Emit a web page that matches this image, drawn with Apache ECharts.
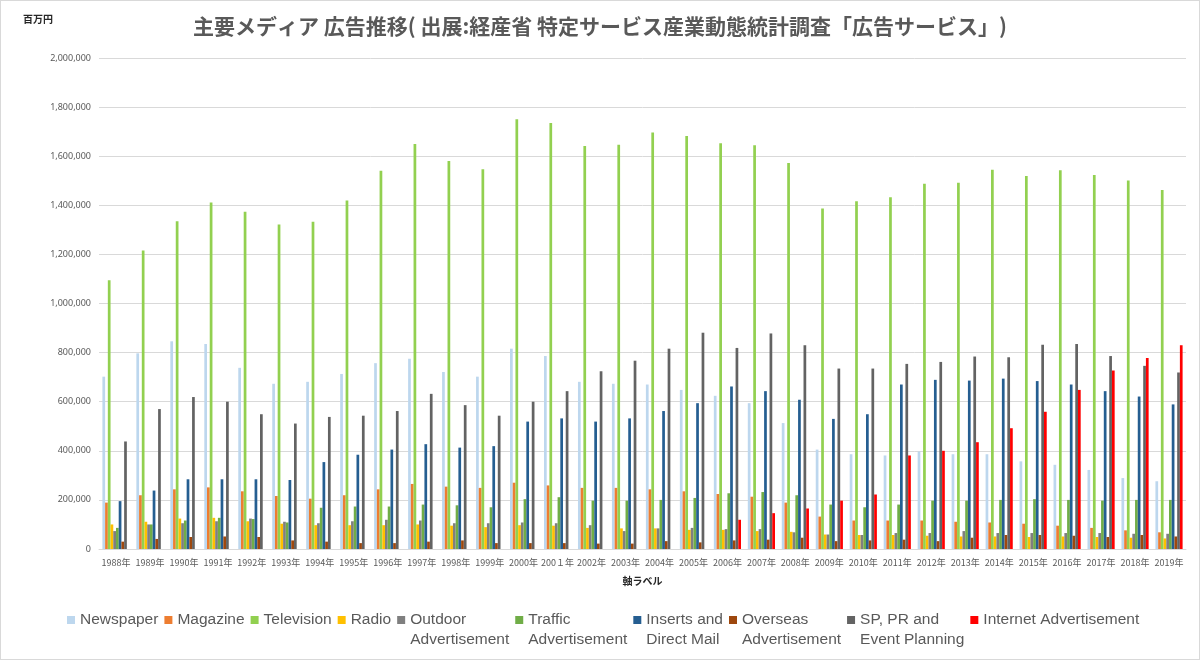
<!DOCTYPE html>
<html lang="ja">
  <head>
    <meta charset="UTF-8" />
    <title>主要メディア 広告推移</title>
    <style>
      * {
        padding: 0;
        margin: 0;
      }
      #main {
        width: 1200px;
        height: 660px;
        box-sizing: border-box;
        border: 1px solid #d9d9d9;
        background: #fff;
      }
    </style>
    <script src="https://cdn.jsdelivr.net/npm/echarts@6/dist/echarts.min.js"></script>
  </head>
  <body>
    <div id="main"></div>
    <script type="text/javascript">
      // 百万円, 1988-2019
      var years = ['1988年', '1989年', '1990年', '1991年', '1992年', '1993年', '1994年', '1995年',
        '1996年', '1997年', '1998年', '1999年', '2000年', '200１年', '2002年', '2003年',
        '2004年', '2005年', '2006年', '2007年', '2008年', '2009年', '2010年', '2011年',
        '2012年', '2013年', '2014年', '2015年', '2016年', '2017年', '2018年', '2019年'];

      var newspaper = [702000, 797000, 846000, 835000, 738000, 673000, 681000, 713000, 757000, 775000, 721000, 702000,
        816000, 786000, 681000, 673000, 670000, 648000, 624000, 594000, 513000, 405000, 386000, 381000,
        397000, 386000, 386000, 357000, 343000, 322000, 289000, 276000];
      var magazine = [189000, 219000, 243000, 251000, 235000, 216000, 205000, 219000, 243000, 265000, 254000, 249000,
        270000, 259000, 249000, 249000, 243000, 235000, 224000, 213000, 189000, 132000, 116000, 116000,
        116000, 111000, 108000, 103000, 95000, 86000, 76000, 68000];
      var television = [1095000, 1216000, 1335000, 1411000, 1374000, 1322000, 1333000, 1420000, 1541000, 1650000, 1580000, 1547000,
        1751000, 1735000, 1642000, 1647000, 1697000, 1682000, 1653000, 1645000, 1572000, 1387000, 1416000, 1433000,
        1488000, 1492000, 1545000, 1519000, 1543000, 1523000, 1501000, 1462000];
      var radio = [100000, 111000, 124000, 127000, 113000, 103000, 97000, 97000, 97000, 100000, 95000, 89000,
        97000, 95000, 86000, 84000, 84000, 78000, 78000, 73000, 70000, 59000, 57000, 57000,
        54000, 51000, 51000, 49000, 51000, 49000, 46000, 43000];
      var outdoor = [73000, 100000, 105000, 113000, 124000, 111000, 105000, 113000, 119000, 116000, 105000, 105000,
        108000, 105000, 97000, 73000, 84000, 86000, 81000, 81000, 68000, 59000, 57000, 65000,
        65000, 73000, 65000, 65000, 65000, 65000, 62000, 62000];
      var traffic = [86000, 100000, 116000, 127000, 122000, 108000, 168000, 173000, 173000, 181000, 178000, 170000,
        203000, 211000, 197000, 197000, 200000, 208000, 227000, 232000, 219000, 181000, 170000, 181000,
        197000, 197000, 200000, 203000, 200000, 197000, 200000, 200000];
      var inserts = [195000, 238000, 284000, 284000, 284000, 281000, 354000, 384000, 405000, 427000, 413000, 419000,
        519000, 532000, 519000, 532000, 562000, 594000, 662000, 643000, 608000, 530000, 549000, 670000,
        689000, 686000, 694000, 684000, 670000, 643000, 621000, 589000];
      var overseas = [30000, 41000, 49000, 51000, 49000, 35000, 30000, 24000, 24000, 30000, 35000, 24000,
        24000, 24000, 22000, 22000, 32000, 27000, 35000, 38000, 46000, 32000, 35000, 38000,
        32000, 46000, 57000, 57000, 54000, 49000, 57000, 51000];
      var spPr = [438000, 570000, 619000, 600000, 549000, 511000, 538000, 543000, 562000, 632000, 586000, 543000,
        600000, 643000, 724000, 767000, 816000, 881000, 819000, 878000, 830000, 735000, 735000, 754000,
        762000, 784000, 781000, 832000, 835000, 786000, 746000, 719000];
      var internet = [null, null, null, null, null, null, null, null, null, null, null, null,
        null, null, null, null, null, null, 119000, 146000, 165000, 197000, 222000, 381000,
        400000, 435000, 492000, 559000, 648000, 727000, 778000, 830000];

      var seriesNames = ['Newspaper', 'Magazine', 'Television', 'Radio', 'Outdoor Advertisement',
        'Traffic Advertisement', 'Inserts and Direct Mail', 'Overseas Advertisement',
        'SP, PR and Event Planning', 'Internet Advertisement'];
      var legendLabels = ['Newspaper', 'Magazine', 'Television', 'Radio', 'Outdoor\nAdvertisement',
        'Traffic\nAdvertisement', 'Inserts and\nDirect Mail', 'Overseas\nAdvertisement',
        'SP, PR and\nEvent Planning', 'Internet Advertisement'];
      var seriesData = [newspaper, magazine, television, radio, outdoor, traffic, inserts, overseas, spPr, internet];
      var colors = ['#bdd7ee', '#ed7d31', '#92d050', '#ffc000', '#7f7f7f',
        '#70ad47', '#255e91', '#9e480e', '#636363', '#ff0000'];

      var myChart = echarts.init(document.getElementById('main'));

      var option = {
        color: colors,
        animation: false,
        title: [
          {
            text: '主要メディア 広告推移( 出展:経産省 特定サービス産業動態統計調査「広告サービス」)',
            left: 'center',
            top: 15,
            padding: 0,
            textStyle: {
              fontFamily: 'Noto Sans CJK JP',
              fontSize: 21,
              fontWeight: 'bold',
              color: '#595959'
            }
          },
          {
            text: '百万円',
            left: 22,
            top: 13,
            padding: 0,
            textStyle: {
              fontFamily: 'Noto Sans CJK JP',
              fontSize: 10,
              fontWeight: 'bold',
              color: '#262626'
            }
          }
        ],
        legend: {
          data: seriesNames,
          left: 66,
          top: 589,
          padding: 0,
          itemWidth: 8,
          itemHeight: 8,
          itemGap: 6,
          icon: 'rect',
          // empty first line so the icon sits beside the first text line
          formatter: function (name) {
            var label = legendLabels[seriesNames.indexOf(name)];
            return '\n' + (label.indexOf('\n') < 0 ? label + '\n' : label);
          },
          textStyle: {
            fontFamily: 'Liberation Sans',
            fontSize: 15.5,
            color: '#595959',
            lineHeight: 20
          }
        },
        grid: {
          left: 98,
          right: 13,
          top: 57,
          bottom: 110
        },
        xAxis: {
          type: 'category',
          data: years,
          name: '軸ラベル',
          nameLocation: 'middle',
          nameGap: 27,
          nameTextStyle: {
            fontFamily: 'Noto Sans CJK JP',
            fontSize: 10,
            fontWeight: 'bold',
            color: '#262626'
          },
          axisTick: {show: false},
          axisLine: {lineStyle: {color: '#d9d9d9'}},
          axisLabel: {
            interval: 0,
            margin: 9,
            fontFamily: 'Noto Sans CJK JP',
            fontSize: 9,
            color: '#595959'
          }
        },
        yAxis: {
          type: 'value',
          min: 0,
          max: 2000000,
          interval: 200000,
          axisLabel: {
            margin: 8,
            fontFamily: 'Noto Sans',
            fontSize: 9,
            color: '#595959',
            formatter: function (v) {
              return v.toLocaleString('en-US');
            }
          },
          splitLine: {lineStyle: {color: '#d9d9d9'}}
        },
        series: seriesNames.map(function (name, i) {
          return {
            name: name,
            type: 'bar',
            barGap: '0%',
            barCategoryGap: '20%',
            data: seriesData[i]
          };
        })
      };

      myChart.setOption(option, true);
    </script>
  </body>
</html>
